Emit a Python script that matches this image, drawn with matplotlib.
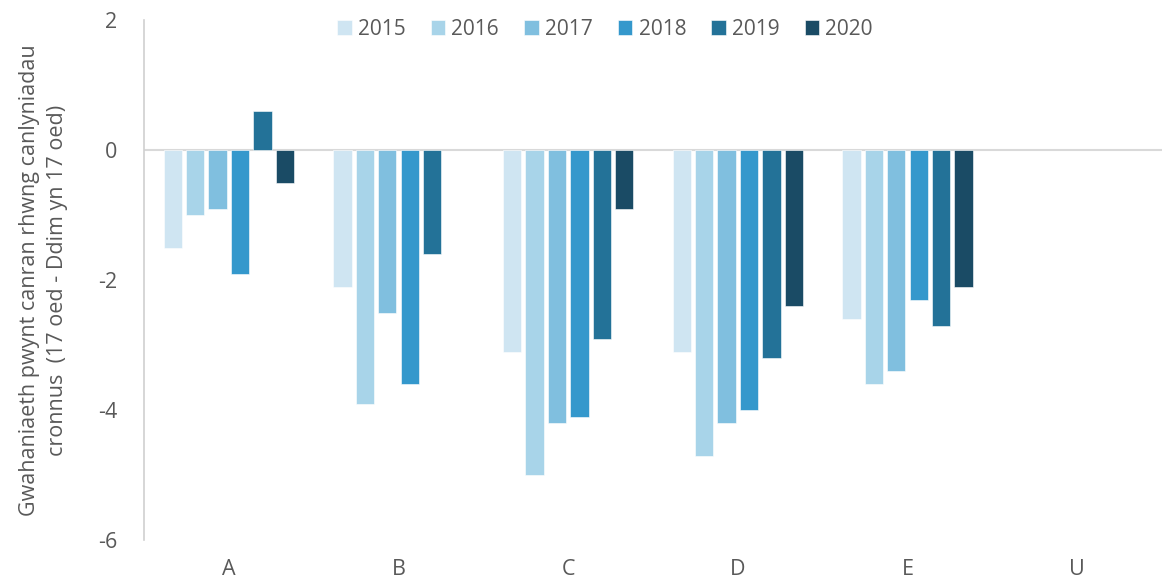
import numpy as np
import matplotlib.pyplot as plt

plt.rcParams['font.family'] = ['Open Sans', 'DejaVu Sans']
plt.rcParams['axes.unicode_minus'] = False

categories = ["A", "B", "C", "D", "E", "U"]
years = ["2015", "2016", "2017", "2018", "2019", "2020"]
colors = ["#cfe5f2", "#a8d4e9", "#80bfdf", "#3498cc", "#237298", "#1a4b65"]

# values per year, one per category (nan = no bar)
v2015 = [-1.5, -2.1, -3.1, -3.1, -2.6, np.nan]
v2016 = [-1.0, -3.9, -5.0, -4.7, -3.6, np.nan]
v2017 = [-0.9, -2.5, -4.2, -4.2, -3.4, np.nan]
v2018 = [-1.9, -3.6, -4.1, -4.0, -2.3, np.nan]
v2019 = [0.6, -1.6, -2.9, -3.2, -2.7, np.nan]
v2020 = [-0.5, np.nan, -0.9, -2.4, -2.1, np.nan]
series = [v2015, v2016, v2017, v2018, v2019, v2020]

grey = "#595959"

fig = plt.figure(figsize=(11.62, 5.85), dpi=100)
ax = fig.add_axes([144 / 1162, 1 - 540 / 585, 1 - 144 / 1162, (540 - 20) / 585])

x = np.arange(len(categories))
step = 0.132
width = 0.108
for i, (yr, vals, c) in enumerate(zip(years, series, colors)):
    ax.bar(x + (i - 2.5) * step, vals, width, color=c, label=yr,
           edgecolor="white", linewidth=0.4, zorder=3)

ax.axhline(0, color="#d9d9d9", linewidth=1.5, zorder=2)
ax.set_xlim(-0.5, 5.5)
ax.set_ylim(-6, 2)
ax.set_yticks([-6, -4, -2, 0, 2])
ax.set_xticks(x)
ax.set_xticklabels(categories)
ax.tick_params(axis="both", length=0, colors=grey, labelsize=15.5)
ax.tick_params(axis="x", pad=14)
ax.tick_params(axis="y", pad=19)

for s in ["top", "right", "bottom"]:
    ax.spines[s].set_visible(False)
ax.spines["left"].set_color("#d0d0d0")
ax.spines["left"].set_linewidth(1.2)

ax.set_ylabel("Gwahaniaeth pwynt canran rhwng canlyniadau\ncronnus  (17 oed - Ddim yn 17 oed)",
              fontsize=15.5, color=grey, labelpad=22, linespacing=1.45)

ax.legend(loc="upper center", bbox_to_anchor=(605 / 1162, 1.0), bbox_transform=fig.transFigure,
          ncol=6, frameon=False, fontsize=15, labelcolor=grey,
          handlelength=0.7, handleheight=0.7, handletextpad=0.3, columnspacing=1.2)

fig.savefig("out.png", dpi=100)
